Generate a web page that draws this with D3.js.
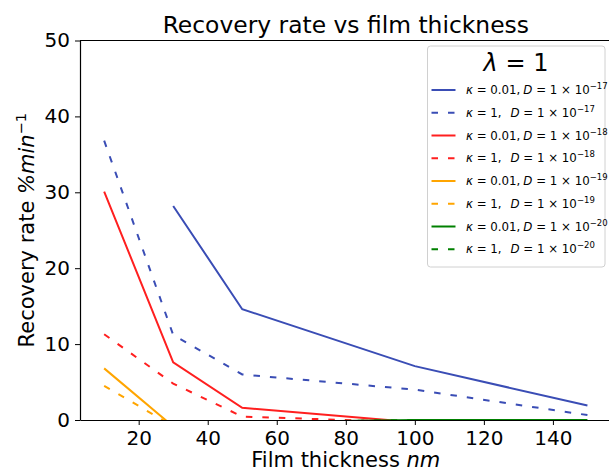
<!DOCTYPE html>
<html><head><meta charset="utf-8">
<script src="https://cdn.jsdelivr.net/npm/d3@7"></script>
<style>
body{margin:0;background:#fff;}
svg text{font-family:"DejaVu Sans",sans-serif;fill:#000;}
</style></head><body>
<svg id="c" width="609" height="471"></svg>
<script>
const thickness = [10, 30, 50, 100, 150];
const blueSolid  = [null, 28.2, 14.6, 7.1, 1.9];   // κ=0.01, D=1e-17
const blueDash   = [36.8, 11.2, 6.0, 4.0, 0.65];   // κ=1, D=1e-17
const redSolid   = [30.1, 7.6, 1.6, -0.3, -0.3];   // κ=0.01, D=1e-18
const redDash    = [11.3, 4.8, 0.45, -0.3, -0.3];  // κ=1, D=1e-18
const orangeSolid= [6.8, -0.85, null, null, null]; // κ=0.01, D=1e-19
const orangeDash = [4.5, -0.8, null, null, null];  // κ=1, D=1e-19
const greenSolid = [null, null, -0.3, 0, 0];       // κ=0.01, D=1e-20
const greenDash  = [null, null, -0.3, 0, 0];       // κ=1, D=1e-20
const xTicks = [20, 40, 60, 80, 100, 120, 140];
const yTicks = [0, 10, 20, 30, 40, 50];
const kappaLabels = ["0.01", "1", "0.01", "1", "0.01", "1", "0.01", "1"];
const expLabels = ["\u221217", "\u221217", "\u221218", "\u221218", "\u221219", "\u221219", "\u221220", "\u221220"];

const series = [
  {v: blueSolid, c: "#3a4db5", dash: false},
  {v: blueDash, c: "#3a4db5", dash: true},
  {v: redSolid, c: "#ff1f1f", dash: false},
  {v: redDash, c: "#ff1f1f", dash: true},
  {v: orangeSolid, c: "#ffa500", dash: false},
  {v: orangeDash, c: "#ffa500", dash: true},
  {v: greenSolid, c: "#008000", dash: false},
  {v: greenDash, c: "#008000", dash: true}
];

const L = 80, T = 40.5, R = 611.6, B = 420;
const svg = d3.select("#c");
const x = d3.scaleLinear().domain([3, 157]).range([L, R]);
const y = d3.scaleLinear().domain([0, 50]).range([B, T]);

svg.append("defs").append("clipPath").attr("id", "clip")
  .append("rect").attr("x", L).attr("y", T).attr("width", R - L).attr("height", B - T);

const line = d3.line().defined(d => d[1] !== null).x(d => x(d[0])).y(d => y(d[1]));
const g = svg.append("g").attr("clip-path", "url(#clip)");
series.forEach(s => {
  g.append("path").datum(thickness.map((t, i) => [t, s.v[i]]))
    .attr("d", line).attr("fill", "none").attr("stroke", s.c)
    .attr("stroke-width", 2).attr("stroke-dasharray", s.dash ? "6.5,10" : null);
});

// axes
const xa = svg.append("g").attr("transform", `translate(0,${B})`)
  .call(d3.axisBottom(x).tickValues(xTicks).tickSize(5).tickPadding(6).tickSizeOuter(0));
const ya = svg.append("g").attr("transform", `translate(${L},0)`)
  .call(d3.axisLeft(y).tickValues(yTicks).tickSize(5).tickPadding(5).tickSizeOuter(0));
[xa, ya].forEach(a => {
  a.selectAll("text").attr("font-size", 20).attr("font-family", "DejaVu Sans");
  a.selectAll("line").attr("stroke", "#000").attr("stroke-width", 1);
  a.select(".domain").attr("stroke", "#000").attr("stroke-width", 1.2);
});
// top and right spines
svg.append("line").attr("x1", L).attr("x2", R).attr("y1", T).attr("y2", T).attr("stroke", "#000").attr("stroke-width", 1.2);
svg.append("line").attr("x1", R).attr("x2", R).attr("y1", T).attr("y2", B).attr("stroke", "#000").attr("stroke-width", 1.2);

// title
svg.append("text").attr("x", (L + R) / 2).attr("y", 33).attr("text-anchor", "middle")
  .attr("font-size", 23.4).text("Recovery rate vs film thickness");

// x label
const xl = svg.append("text").attr("x", (L + R) / 2).attr("y", 467).attr("text-anchor", "middle").attr("font-size", 21);
xl.append("tspan").text("Film thickness ");
xl.append("tspan").attr("font-style", "italic").text("nm");

// y label
const yl = svg.append("text").attr("transform", `translate(34,${(T + B) / 2}) rotate(-90)`)
  .attr("text-anchor", "middle").attr("font-size", 21);
yl.append("tspan").text("Recovery rate ");
yl.append("tspan").attr("font-style", "italic").text("%min");
yl.append("tspan").attr("font-size", 14.5).attr("dy", -8).text("\u22121");

// legend
const lg = svg.append("g");
lg.append("rect").attr("x", 427.5).attr("y", 46).attr("width", 177.5).attr("height", 221)
  .attr("rx", 3).attr("fill", "#fff").attr("fill-opacity", 0.85).attr("stroke", "#d0d0d0").attr("stroke-width", 1);
const lt = lg.append("text").attr("x", 516).attr("y", 71).attr("text-anchor", "middle").attr("font-size", 24);
lt.append("tspan").attr("font-style", "italic").text("\u03bb");
lt.append("tspan").text(" = 1");

series.forEach((s, i) => {
  const cy = 90 + i * 22.75;
  lg.append("line").attr("x1", 431.5).attr("x2", 455.5).attr("y1", cy).attr("y2", cy)
    .attr("stroke", s.c).attr("stroke-width", 2).attr("stroke-dasharray", s.dash ? "6.5,10" : null);
  const t = lg.append("text").attr("x", 466).attr("y", cy + 4).attr("font-size", 11.8).attr("xml:space", "preserve");
  t.append("tspan").attr("font-style", "italic").text("\u03ba");
  t.append("tspan").text(" = " + kappaLabels[i] + ",");
  const d = t.append("tspan").attr("font-style", "italic").text("D");
  if (kappaLabels[i] === "1") d.attr("x", 510.5); else d.attr("dx", 3);
  t.append("tspan").text(" = 1 \u00d7 10");
  t.append("tspan").attr("font-size", 8.5).attr("dy", -5).text(expLabels[i]);
});
</script>
</body></html>
